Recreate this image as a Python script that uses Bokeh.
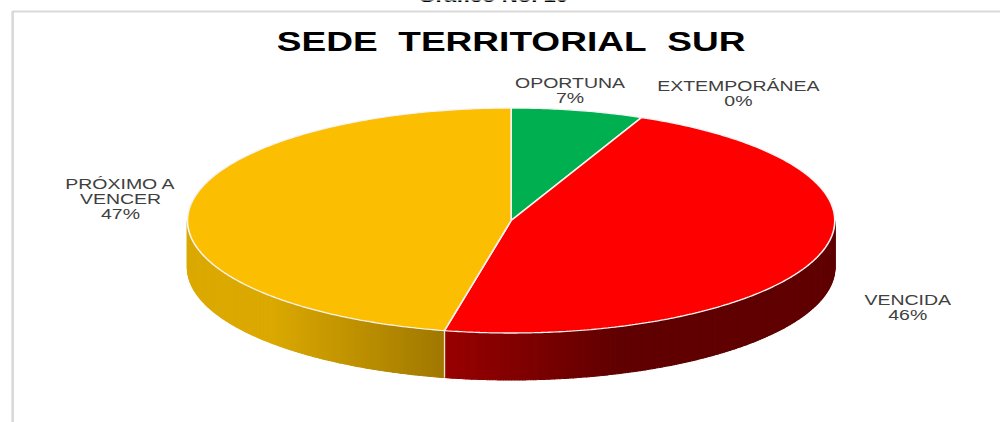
import math
from bokeh.plotting import figure
from bokeh.models import Range1d
from bokeh.core.properties import value
from bokeh.embed import file_html
from bokeh.resources import INLINE

categories = ["OPORTUNA", "EXTEMPORÁNEA", "VENCIDA", "PRÓXIMO A\nVENCER"]
shares = [6.6, 0.0, 46.7, 46.7]
percent_labels = ["7%", "0%", "46%", "47%"]
top_colors = ["#00B050", "#C00000", "#FF0000", "#FCBE00"]
title = "SEDE\u00a0\u00a0TERRITORIAL\u00a0\u00a0SUR"
caption = "Gráfico No. 10"

W, H = 1000, 422
STRETCH = 1.3  # the reference is a horizontally stretched picture, text included
CX, CY, RX, RY, DEPTH = 511.0, 220.0, 324.0, 112.5, 47.0
label_pos = [(570, 82), (738.5, 85), (908, 299), (120, 183)]

# Bokeh measures its box after the transform, so the drawing area is W px wide before stretching
p = figure(width=round(W / STRETCH), height=H, output_backend="svg", toolbar_location=None,
           x_range=Range1d(0, W * STRETCH), y_range=Range1d(H, 0), min_border=0,
           outline_line_color=None, background_fill_color="white", border_fill_color="white")
p.axis.visible = False
p.grid.visible = False
p.styles = {"transform": f"scaleX({STRETCH})", "transform-origin": "0 0"}

# chart frame
p.line([12, 12, W * STRETCH], [H, 11, 11], line_color="#D9D9D9", line_width=2)


def pt(phi, dy=0.0):
    return CX + RX * math.sin(phi), CY - RY * math.cos(phi) + dy


def mix(a, b, t):
    t = max(0.0, min(1.0, t))
    return "#%02x%02x%02x" % tuple(round(a[i] + (b[i] - a[i]) * t) for i in range(3))


def side_color(i, x):
    if i == 3:
        return mix((219, 169, 0), (160, 120, 0), (x - 270) / (443 - 270))
    return mix((153, 0, 0), (96, 0, 0), (x - 443) / (620 - 443))


# angular extents from the values
angles = []
acc = 0.0
total = sum(shares)
for s in shares:
    a0 = acc / total * 2 * math.pi
    acc += s
    angles.append((a0, acc / total * 2 * math.pi))

# sides, front half only, as thin vertical strips
for i, (a0, a1) in enumerate(angles):
    lo, hi = max(a0, math.pi / 2), min(a1, 3 * math.pi / 2)
    if hi <= lo:
        continue
    n = max(2, int((hi - lo) * 120))
    xs, ys, cols = [], [], []
    for k in range(n):
        u0 = lo + (hi - lo) * k / n
        u1 = lo + (hi - lo) * (k + 1) / n
        x0, y0 = pt(u0)
        x1, y1 = pt(u1)
        xs.append([x0, x1, x1, x0])
        ys.append([y0, y1, y1 + DEPTH, y0 + DEPTH])
        cols.append(side_color(i, (x0 + x1) / 2))
    p.patches(xs, ys, fill_color=cols, line_color=cols, line_width=1)

# seams on the side between slices
for a0, a1 in angles:
    if math.pi / 2 < a1 < 3 * math.pi / 2:
        x, y = pt(a1)
        p.line([x, x], [y, y + DEPTH], line_color="#F2E6D0", line_width=1.0)

# top face
for (a0, a1), col in zip(angles, top_colors):
    if a1 - a0 <= 0:
        continue
    n = max(3, int((a1 - a0) * 90))
    pts = [pt(a0 + (a1 - a0) * k / n) for k in range(n + 1)]
    xs = [CX] + [q[0] for q in pts]
    ys = [CY] + [q[1] for q in pts]
    p.patch(xs, ys, fill_color=col, line_color="#F4F4F4", line_width=1.3)

# labels
for name, pct, (x, y) in zip(categories, percent_labels, label_pos):
    lines = name.split("\n") + [pct]
    for j, t in enumerate(lines):
        p.text([x], [y + j * 15], text=[t], text_align="center", text_baseline="middle",
               text_font=value("Liberation Sans"), text_font_size="15px", text_color="#404040")

p.text([511], [41], text=[title], text_align="center", text_baseline="middle",
       text_font=value("Liberation Sans"), text_font_size="28.5px", text_font_style="bold",
       text_color="#000000")
p.text([493], [-4], text=[caption], text_align="center", text_baseline="middle",
       text_font=value("Liberation Sans"), text_font_size="17px", text_font_style="bold",
       text_color="#000000")

open("out.html", "w").write(file_html(p, INLINE))
